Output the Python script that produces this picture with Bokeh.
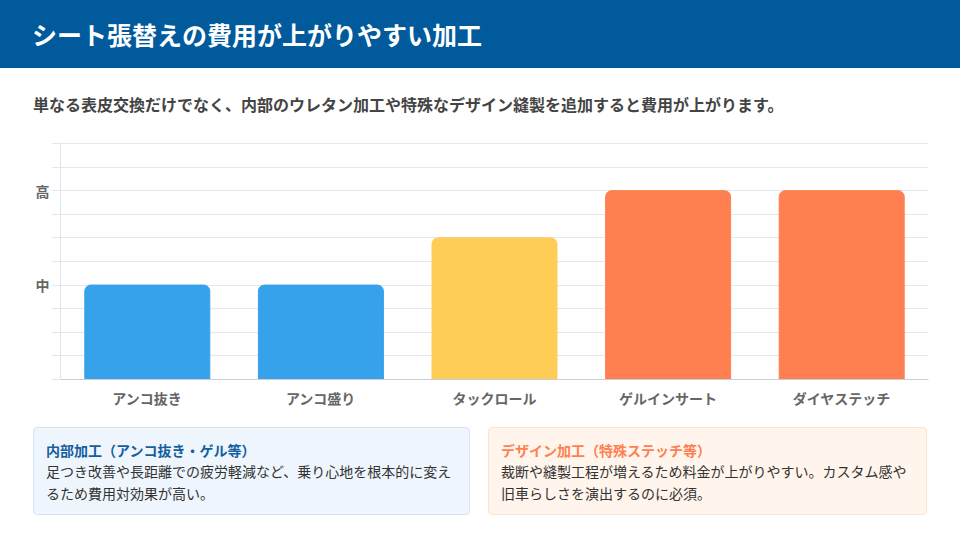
from bokeh.plotting import figure
from bokeh.models import Div, FixedTicker, Range1d, ColumnDataSource
from bokeh.layouts import column
from bokeh.embed import file_html
from bokeh.resources import INLINE

FONT = "Noto Sans CJK JP"

title_text = "シート張替えの費用が上がりやすい加工"
subtitle_text = "単なる表皮交換だけでなく、内部のウレタン加工や特殊なデザイン縫製を追加すると費用が上がります。"

categories = ["アンコ抜き", "アンコ盛り", "タックロール", "ゲルインサート", "ダイヤステッチ"]
cost_level = [2, 2, 3, 4, 4]
bar_colors = ["#36a2eb", "#36a2eb", "#ffcd56", "#ff7f50", "#ff7f50"]

y_major_ticks = [0, 2, 4, 5]
y_tick_labels = {0: "", 2: "中", 4: "高", 5: ""}
y_minor_ticks = [0, 0.5, 1, 1.5, 2, 2.5, 3, 3.5, 4, 4.5, 5]

box1_title = "内部加工（アンコ抜き・ゲル等）"
box1_text = "足つき改善や長距離での疲労軽減など、乗り心地を根本的に変えるため費用対効果が高い。"
box2_title = "デザイン加工（特殊ステッチ等）"
box2_text = "裁断や縫製工程が増えるため料金が上がりやすい。カスタム感や旧車らしさを演出するのに必須。"

header = Div(
    text=(f"<div style=\"width:960px;height:68px;background:#005a9c;color:#ffffff;"
          f"font-family:'{FONT}';font-size:25px;font-weight:700;line-height:30px;"
          f"box-sizing:border-box;padding:19px 0 0 32px;white-space:nowrap;\">{title_text}</div>"),
    width=960, height=68, margin=0,
)

subtitle = Div(
    text=(f"<div style=\"width:960px;height:60px;color:#444444;"
          f"font-family:'{FONT}';font-size:16px;font-weight:700;line-height:20px;"
          f"box-sizing:border-box;padding:26px 0 0 33px;white-space:nowrap;\">{subtitle_text}</div>"),
    width=960, height=60, margin=0,
)

src = ColumnDataSource(dict(cat=categories, val=cost_level, color=bar_colors))

p = figure(
    x_range=categories, y_range=Range1d(0, 5.02),
    width=960, height=287, output_backend="svg", toolbar_location=None,
    min_border_left=60, min_border_right=32, min_border_top=14, min_border_bottom=36,
    margin=0,
)
p.outline_line_color = None
p.background_fill_color = "#ffffff"
p.border_fill_color = "#ffffff"

p.vbar(x="cat", top="val", width=0.72, fill_color="color", line_color="color",
       source=src, border_radius=(6, 6, 0, 0))

p.xgrid.grid_line_color = None
p.ygrid.ticker = FixedTicker(ticks=y_major_ticks, minor_ticks=y_minor_ticks)
p.ygrid.grid_line_color = "#e2e8f0"
p.ygrid.minor_grid_line_color = "#e2e8f0"

p.yaxis.ticker = FixedTicker(ticks=y_major_ticks, minor_ticks=y_minor_ticks)
p.yaxis.major_label_overrides = y_tick_labels
p.yaxis.axis_line_color = "#dde3ec"
p.yaxis.major_tick_line_color = "#e2e8f0"
p.yaxis.minor_tick_line_color = "#e2e8f0"
p.yaxis.major_tick_out = 8
p.yaxis.major_tick_in = 0
p.yaxis.minor_tick_out = 8
p.yaxis.minor_tick_in = 0
p.yaxis.major_label_standoff = 3
p.yaxis.major_label_text_font = FONT
p.yaxis.major_label_text_font_size = "14px"
p.yaxis.major_label_text_font_style = "bold"
p.yaxis.major_label_text_color = "#666666"

p.xaxis.axis_line_color = "#c9ced6"
p.xaxis.major_tick_line_color = None
p.xaxis.major_tick_out = 0
p.xaxis.major_tick_in = 0
p.xaxis.major_label_standoff = 8
p.xaxis.major_label_text_font = FONT
p.xaxis.major_label_text_font_size = "14px"
p.xaxis.major_label_text_font_style = "bold"
p.xaxis.major_label_text_color = "#666666"


def box_html(left, width, bg, border, title, title_color, body):
    return (f"<div style=\"position:absolute;left:{left}px;top:12px;width:{width}px;height:88px;"
            f"box-sizing:border-box;background:{bg};border:1px solid {border};border-radius:4px;"
            f"padding:12px 12px;font-family:'{FONT}';\">"
            f"<div style=\"font-size:14px;font-weight:700;line-height:20px;color:{title_color};\">{title}</div>"
            f"<div style=\"font-size:14px;line-height:22px;color:#333333;\">{body}</div></div>")


boxes = Div(
    text=("<div style=\"position:relative;width:960px;height:125px;\">"
          + box_html(33, 437, "#eef5fd", "#d4e4f7", box1_title, "#14609f", box1_text)
          + box_html(488, 439, "#fff5ec", "#fde4cc", box2_title, "#ff7f50", box2_text)
          + "</div>"),
    width=960, height=125, margin=0,
)

layout = column(header, subtitle, p, boxes, spacing=0, margin=0)

with open("out.html", "w") as f:
    f.write(file_html(layout, INLINE))
